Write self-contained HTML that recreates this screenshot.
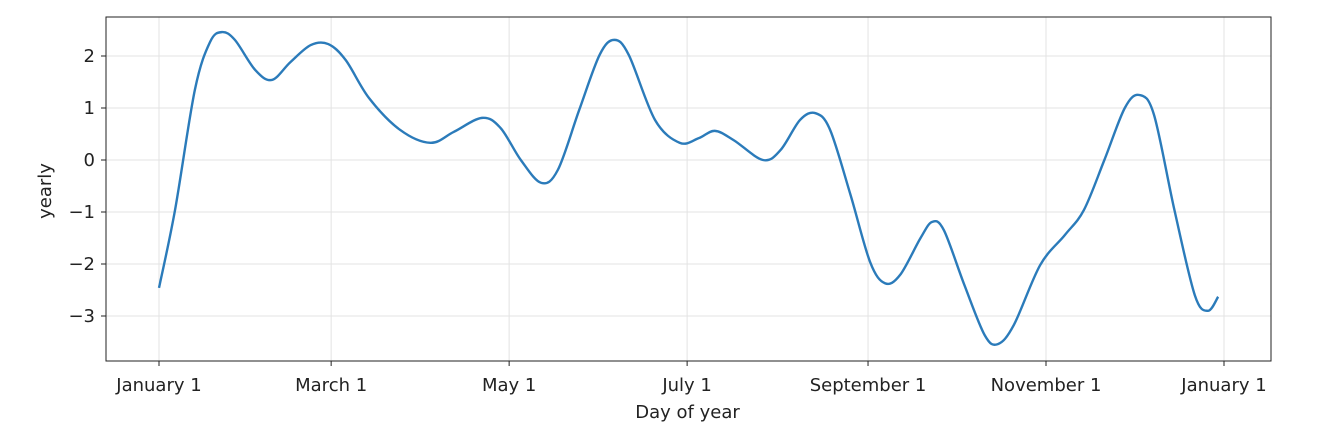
<!DOCTYPE html>
<html><head><meta charset="utf-8"><style>
body{margin:0;background:#fff;width:1332px;height:432px;overflow:hidden}
svg text{font-family:"DejaVu Sans","Liberation Sans",sans-serif;font-size:18px;fill:#222}
</style></head><body>
<svg id="chart" width="1332" height="432"></svg>
<script>
const days=[0,5.5,12.3,17.5,21.6,26,33,38.7,45,52,58,64,72,82.6,93,101,110.7,117,124,131,136.7,144,151,156,161,170,178.5,185,190.5,197,207,213,219.7,225,230,237,243.7,248.8,254,261,265,269,276,283,287.5,293,302,310.5,317,324,331,336,341,348,355,359.5,363];
const values=[-2.46,-0.96,1.35,2.27,2.46,2.31,1.73,1.54,1.88,2.21,2.23,1.92,1.19,0.58,0.33,0.54,0.81,0.62,0.0,-0.44,-0.19,0.96,2.02,2.31,2.02,0.77,0.33,0.42,0.56,0.38,0.0,0.19,0.77,0.9,0.58,-0.67,-1.96,-2.37,-2.21,-1.5,-1.19,-1.35,-2.40,-3.37,-3.54,-3.17,-2.02,-1.44,-0.96,0.0,1.0,1.25,0.87,-0.96,-2.6,-2.9,-2.63];
const yTicks=[2,1,0,-1,-2,-3];
const yTickLabels=["2","1","0","\u22121","\u22122","\u22123"];
const xTickDays=[0,59,120,181,243,304,365];
const xTickLabels=["January 1","March 1","May 1","July 1","September 1","November 1","January 1"];

const NS="http://www.w3.org/2000/svg";
const svg=document.getElementById('chart');
const L=106,R=1271,T=17,B=361;
const xs=d=>159+d*(1224-159)/365;
const ys=v=>160-v*52;
function mk(tag,attrs,parent){const e=document.createElementNS(NS,tag);for(const k in attrs)e.setAttribute(k,attrs[k]);(parent||svg).appendChild(e);return e;}

const grid=mk('g',{});


yTicks.forEach((t,i)=>{
  const y=ys(t);
  const g=mk('line',{x1:L,x2:R,y1:y,y2:y,stroke:'#e3e3e3','stroke-width':1},grid);
  
  
  mk('line',{x1:L-5,x2:L,y1:y,y2:y,stroke:'#222'});
  const tx=mk('text',{x:L-11,y:y+6,'text-anchor':'end'});
  tx.textContent=yTickLabels[i];
  
  
});
xTickDays.forEach((d,i)=>{
  const x=xs(d);
  const g=mk('line',{x1:x,x2:x,y1:T,y2:B,stroke:'#e3e3e3','stroke-width':1},grid);
  
  
  mk('line',{x1:x,x2:x,y1:B,y2:B+5,stroke:'#222'});
  const tx=mk('text',{x:x,y:B+30,'text-anchor':'middle'});
  tx.textContent=xTickLabels[i];
  
  
});
const P=days.map((d,i)=>[xs(d),ys(values[i])]);
let dstr=`M${P[0][0]},${P[0][1]}`;
for(let i=0;i<P.length-1;i++){
  const p0=P[Math.max(0,i-1)],p1=P[i],p2=P[i+1],p3=P[Math.min(P.length-1,i+2)];
  const c1=[p1[0]+(p2[0]-p0[0])/6,p1[1]+(p2[1]-p0[1])/6];
  const c2=[p2[0]-(p3[0]-p1[0])/6,p2[1]-(p3[1]-p1[1])/6];
  dstr+=` C${c1[0]},${c1[1]} ${c2[0]},${c2[1]} ${p2[0]},${p2[1]}`;
}
const line=mk('path',{d:dstr,fill:'none',stroke:'#2b7bba','stroke-width':2.4});


const frame=mk('rect',{x:L,y:T,width:R-L,height:B-T,fill:'none',stroke:'#222','stroke-width':1});


const xl=mk('text',{x:(L+R)/2-1,y:418,'text-anchor':'middle'});
xl.textContent='Day of year';


const yl=mk('text',{x:0,y:0,'text-anchor':'middle',transform:`translate(51,${(T+B)/2+2}) rotate(-90)`});
yl.textContent='yearly';


</script>
</body></html>
